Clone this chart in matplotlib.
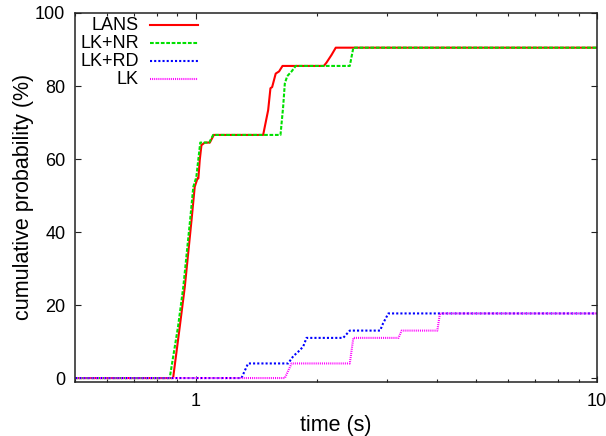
import matplotlib
matplotlib.use("Agg")
import matplotlib.pyplot as plt
from matplotlib.ticker import LogLocator, NullFormatter, FixedLocator, FixedFormatter

plt.rcParams['font.family'] = ['Liberation Sans', 'DejaVu Sans']

# ---- data ----
labels = ["LANS", "LK+NR", "LK+RD", "LK"]

lans_x = [0.5, 0.878, 0.912, 0.939, 0.957, 0.976, 0.994, 1.01, 1.015, 1.023, 1.033, 1.053,
          1.084, 1.109, 1.472, 1.515, 1.535, 1.55, 1.582, 1.613, 1.645, 2.085, 2.117,
          2.179, 2.233, 10]
lans_y = [0, 0, 14, 25, 34, 43.3, 52.4, 54.7, 54.7, 59.7, 63.8, 64.5,
          64.5, 66.6, 66.6, 73.4, 79.4, 79.7, 83.4, 84, 85.5, 85.5, 86.4,
          88.5, 90.5, 90.5]

nr_x = [0.5, 0.861, 0.903, 0.931, 0.949, 0.968, 0.986, 1.003, 1.015, 1.026, 1.05, 1.08,
        1.105, 1.626, 1.651, 1.667, 1.69, 1.733, 1.775, 2.42, 2.47, 10]
nr_y = [0, 0, 14, 25, 34, 43.3, 52.4, 55, 60, 64.5, 64.5, 64.5,
        66.6, 66.6, 74.3, 80.7, 82.7, 84, 85.5, 85.5, 90.5, 90.5]

rd_x = [0.5, 1.30, 1.35, 1.699, 1.75, 1.80, 1.852, 1.888, 2.33, 2.42, 2.88, 2.93, 3.02, 10]
rd_y = [0, 0, 4, 4, 6, 7.2, 8.6, 11, 11, 13, 13, 15, 17.7, 17.7]

lk_x = [0.5, 1.667, 1.733, 2.42, 2.47, 3.2, 3.26, 4.0, 4.06, 10]
lk_y = [0, 0, 4, 4, 11, 11, 13, 13, 17.7, 17.7]

xticks = [1, 10]
xticklabels = ["1", "10"]
yticks = [0, 20, 40, 60, 80, 100]

series_x = [lans_x, nr_x, rd_x, lk_x]
series_y = [lans_y, nr_y, rd_y, lk_y]

# ---- styles ----
colors = ["#ff0000", "#00e000", "#0000ff", "#ff00ff"]
styles = [
    dict(lw=1.5, linestyle='-'),
    dict(lw=1.5, linestyle=(0, (1.8, 0.8))),
    dict(lw=1.5, linestyle=(0, (1.0, 1.0))),
    dict(lw=1.5, linestyle=(0, (0.5, 0.5))),
]

W, H = 606, 436
fig = plt.figure(figsize=(W / 100, H / 100), dpi=100)
L, R, T, B = 75, 597, 13, 381.7
ax = fig.add_axes([L / W, 1 - B / H, (R - L) / W, (B - T) / H])

for xs, ys, c, st in zip(series_x, series_y, colors, styles):
    ax.plot(xs, ys, color=c, solid_capstyle='butt', dash_capstyle='butt', **st)

ax.set_xscale('log')
ax.set_xlim(0.5, 10)
ax.set_ylim(-1, 100)

ax.xaxis.set_major_locator(FixedLocator(xticks))
ax.xaxis.set_major_formatter(FixedFormatter(xticklabels))
ax.xaxis.set_minor_locator(LogLocator(base=10, subs=range(2, 10)))
ax.xaxis.set_minor_formatter(NullFormatter())
ax.set_yticks(yticks)

ax.tick_params(which='both', direction='in', top=True, right=True, color='#222222', width=0.8,
               labelsize=13)
ax.tick_params(which='major', length=4)
ax.tick_params(which='minor', length=2.5)
ax.tick_params(axis='x', pad=8)
ax.tick_params(axis='y', pad=7)
for s in ax.spines.values():
    s.set_color('#222222')
    s.set_linewidth(1.1)

ax.set_xlabel("time (s)", fontsize=15.5)
ax.set_ylabel("cumulative probability (%)", fontsize=15.5)
aw, ah = R - L, B - T
ax.xaxis.set_label_coords(0.5, (B - 415) / ah)
ax.yaxis.set_label_coords((34 - L) / aw, 0.5)

# legend drawn manually (gnuplot style: right-aligned text, sample to the right)
rows_py = [25, 43, 61, 79]
for lab, c, st, py in zip(labels, colors, styles, rows_py):
    yy = (B - py) / ah
    ax.text((139 - L) / aw, yy, lab, transform=ax.transAxes, ha='right', va='center', fontsize=13)
    ax.plot([(150 - L) / aw, (198 - L) / aw], [yy, yy], transform=ax.transAxes, color=c,
            clip_on=False, **st)

fig.savefig("out.png", dpi=100)
